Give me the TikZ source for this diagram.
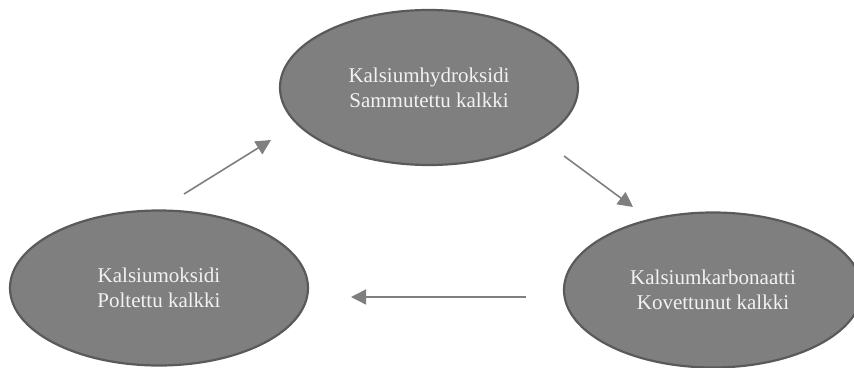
\documentclass[tikz,border=0pt]{standalone}
\usepackage{fontspec}
\setmainfont{Liberation Serif}
\usetikzlibrary{shapes.geometric,arrows.meta}
\definecolor{efill}{HTML}{7F7F7F}
\definecolor{edraw}{HTML}{5A5A5A}
\definecolor{etext}{HTML}{F2F2F2}
\definecolor{arr}{HTML}{7F7F7F}
\tikzset{
  stage/.style={ellipse, fill=efill, draw=edraw, line width=2.2pt,
    minimum width=298pt, minimum height=155pt, inner sep=0pt,
    text=etext, align=center, font=\fontsize{21}{25}\selectfont},
  flow/.style={draw=arr, line width=1.6pt,
    -{Triangle[length=15pt,width=15pt]}}
}
\begin{document}
\begin{tikzpicture}[x=1pt,y=-1pt]
\useasboundingbox (0,0) rectangle (854,367);
\clip (0,0) rectangle (854,367);
\node[stage] (hyd) at (429,87.5) {Kalsiumhydroksidi\\Sammutettu kalkki};
\node[stage] (oks) at (159,288) {Kalsiumoksidi\\Poltettu kalkki};
\node[stage] (kar) at (713,290) {Kalsiumkarbonaatti\\Kovettunut kalkki};
\coordinate (a1s) at (184,194);
\coordinate (a1e) at (271,140);
\coordinate (a2s) at (564,156);
\coordinate (a2e) at (633,207);
\coordinate (a3s) at (526,297);
\coordinate (a3e) at (351,297);
\draw[flow] (a1s) -- (a1e);
\draw[flow] (a2s) -- (a2e);
\draw[flow] (a3s) -- (a3e);
\end{tikzpicture}
\end{document}
